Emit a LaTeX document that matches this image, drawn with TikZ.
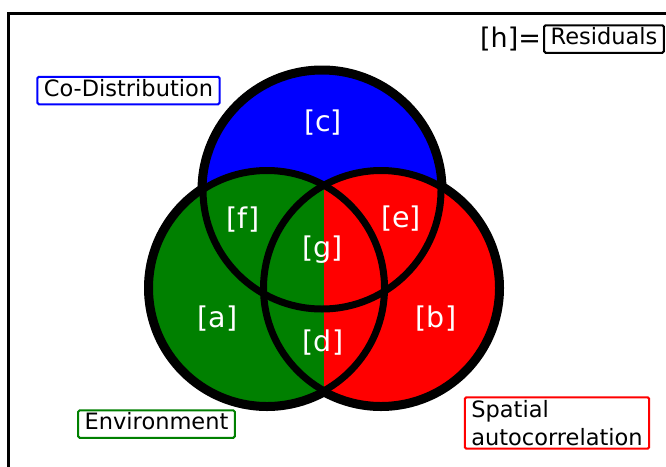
\documentclass[tikz,border=0pt]{standalone}
\usepackage{fontspec}
\setmainfont{DejaVu Sans}
\usepackage{xcolor}
\usetikzlibrary{positioning}
\definecolor{setblue}{RGB}{0,0,255}
\definecolor{setgreen}{RGB}{0,128,0}
\definecolor{setred}{RGB}{255,0,0}

\begin{document}
\begin{tikzpicture}[x=1pt, y=-1pt,
  legend/.style={draw, rectangle, rounded corners=1.5pt, line width=2pt, fill=white, inner xsep=6.5pt, inner ysep=3pt, font=\fontsize{22.5}{28}\selectfont},
  legendline/.style={legend, text height=16.5pt, text depth=5pt},
  region/.style={text=white, font=\fontsize{28.5}{32}\selectfont},
  ring/.style={draw=black, line width=7pt}]
\useasboundingbox (0,0) rectangle (666,466);
% Frame
\draw[line width=2.7pt] (8.7,480) -- (8.7,13.3) -- (680,13.3);

% Circles
\coordinate (cc) at (322,190);
\coordinate (ca) at (267,288);
\coordinate (cb) at (381,288);
\foreach \ctr/\rad in {cc/119,ca/117.5,cb/117.5}
  \draw[line width=11pt] (\ctr) circle[radius=\rad pt];
\fill[setblue] (cc) circle[radius=119pt];
\fill[setgreen] (ca) circle[radius=117.5pt];
\begin{scope}
  \clip (324,0) rectangle (666,466);
  \fill[setred] (cb) circle[radius=117.5pt];
\end{scope}
\foreach \ctr/\rad in {cc/119,ca/117.5,cb/117.5}
  \draw[ring] (\ctr) circle[radius=\rad pt];

% Regions
\node[region] (a) at (217.5,319) {[a]};
\node[region] (b) at (436,319) {[b]};
\node[region] (c) at (323,123) {[c]};
\node[region] (d) at (323,343) {[d]};
\node[region] (e) at (401,219) {[e]};
\node[region] (f) at (243,220) {[f]};
\node[region] (g) at (322.5,250) {[g]};

% Legend
\node[legendline, draw=setblue] (codist) at (128.5,90.5) {Co-Distribution};
\node[legendline, draw=setgreen] (env) at (156.5,424) {Environment};
\node[legend, draw=setred, align=left] (spatial) at (557,423) {Spatial\\autocorrelation};
\node[legendline, draw=black] (resid) at (604,39) {Residuals};
\node[left=2pt of resid, inner sep=0, font=\fontsize{27}{30}\selectfont] (hlabel) {[h]=};
\end{tikzpicture}
\end{document}
